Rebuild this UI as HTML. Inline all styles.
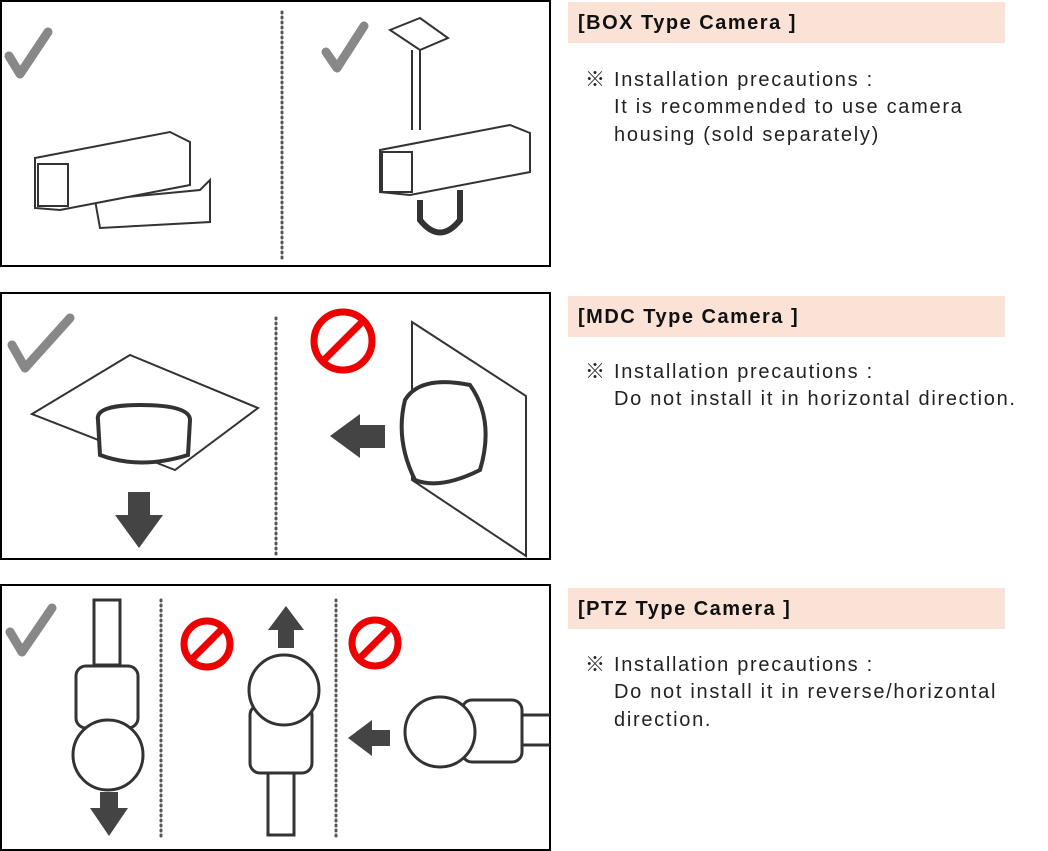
<!DOCTYPE html>
<html><head><meta charset="utf-8"><style>
body{margin:0;width:1048px;height:851px;background:#fff;position:relative;font-family:"Liberation Sans","Noto Sans CJK KR",sans-serif;overflow:hidden}
.lab{position:absolute;left:568px;width:437px;height:41px;background:#fae3d6;font-weight:bold;font-size:20px;line-height:43px;box-sizing:border-box;padding-left:10px;color:#111;letter-spacing:1.5px}
.t{position:absolute;font-size:20px;color:#222;line-height:27px;letter-spacing:1.7px}
</style></head><body>
<svg width="1048" height="851" style="position:absolute;left:0;top:0">
<g fill="none" stroke="#000" stroke-width="2">
<rect x="1" y="1" width="549" height="265"/>
<rect x="1" y="293" width="549" height="266"/>
<rect x="1" y="585" width="549" height="265"/>
</g>
<g stroke="#555" stroke-width="3" stroke-dasharray="1 4" stroke-linecap="round">
<line x1="282" y1="12" x2="282" y2="262"/>
<line x1="276" y1="318" x2="276" y2="556"/>
<line x1="161" y1="600" x2="161" y2="840"/>
<line x1="336" y1="600" x2="336" y2="840"/>
</g>
<g fill="none" stroke="#888" stroke-width="9" stroke-linecap="round" stroke-linejoin="round">
<path d="M9 56 L20 74 L48 32"/>
<path d="M326 52 L337 68 L364 26"/>
<path d="M12 345 L25 368 L70 318"/>
<path d="M10 632 L22 652 L52 608"/>
</g>
<g fill="#fff" stroke="#333" stroke-width="2">
<path d="M95 200 L200 190 L210 180 L210 222 L100 228Z"/>
<path d="M35 158 L170 132 L190 142 L190 185 L60 210 L35 208Z"/>
<rect x="38" y="164" width="30" height="42"/>
<line x1="412" y1="50" x2="412" y2="130"/><line x1="420" y1="50" x2="420" y2="130"/>
<path d="M390 30 L420 18 L448 38 L420 50Z"/>
<path d="M420 200 L420 220 Q440 245 460 220 L460 190" stroke-width="6"/>
<path d="M380 150 L510 125 L530 133 L530 172 L410 195 L380 192Z"/>
<rect x="382" y="152" width="30" height="40"/>
<path d="M32 414 L130 355 L258 408 L175 470Z"/>
<path d="M98 420 Q95 405 140 405 Q190 405 190 420 L188 455 Q140 470 100 455Z" stroke-width="4"/>
<path d="M412 322 L526 396 L526 556 L412 480Z"/>
<path d="M405 400 Q420 375 470 385 Q495 420 480 470 Q440 490 415 480 Q395 440 405 400Z" stroke-width="4"/>
<rect x="94" y="600" width="26" height="65" stroke-width="3"/>
<rect x="76" y="666" width="62" height="62" rx="10" stroke-width="3"/>
<circle cx="108" cy="755" r="35" stroke-width="3"/>
<rect x="268" y="760" width="26" height="75" stroke-width="3"/>
<rect x="250" y="705" width="62" height="68" rx="10" stroke-width="3"/>
<circle cx="284" cy="690" r="35" stroke-width="3"/>
<path d="M490 715 L550 715 M490 745 L550 745" stroke-width="3"/>
<rect x="462" y="700" width="60" height="62" rx="10" stroke-width="3"/>
<circle cx="440" cy="732" r="35" stroke-width="3"/>
</g>
<g fill="#444">
<path d="M128 492 L150 492 L150 515 L163 515 L139 548 L115 515 L128 515Z"/>
<path d="M385 425 L385 448 L360 448 L360 458 L330 436 L360 414 L360 425Z"/>
<path d="M100 792 L118 792 L118 808 L128 808 L109 836 L90 808 L100 808Z"/>
<path d="M278 648 L294 648 L294 630 L304 630 L286 606 L268 630 L278 630Z"/>
<path d="M390 728 L390 744 L372 744 L372 754 L348 736 L372 718 L372 728Z" transform="translate(0,2)"/>
</g>
<g fill="none" stroke="#e00" stroke-width="7">
<circle cx="343" cy="341" r="29"/><line x1="322" y1="362" x2="364" y2="320"/>
<circle cx="207" cy="644" r="23"/><line x1="191" y1="660" x2="223" y2="628"/>
<circle cx="375" cy="643" r="23"/><line x1="359" y1="659" x2="391" y2="627"/>
</g>
</svg>
<div class="lab" style="top:2px">[BOX Type Camera ]</div>
<div class="lab" style="top:296px">[MDC Type Camera ]</div>
<div class="lab" style="top:588px">[PTZ Type Camera ]</div>
<div class="t" style="left:585px;top:67px">※ Installation precautions :</div>
<div class="t" style="left:614px;top:94px">It is recommended to use camera</div>
<div class="t" style="left:614px;top:122px">housing (sold separately)</div>
<div class="t" style="left:585px;top:359px">※ Installation precautions :</div>
<div class="t" style="left:614px;top:386px">Do not install it in horizontal direction.</div>
<div class="t" style="left:585px;top:652px">※ Installation precautions :</div>
<div class="t" style="left:614px;top:679px">Do not install it in reverse/horizontal</div>
<div class="t" style="left:614px;top:707px">direction.</div>
</body></html>
